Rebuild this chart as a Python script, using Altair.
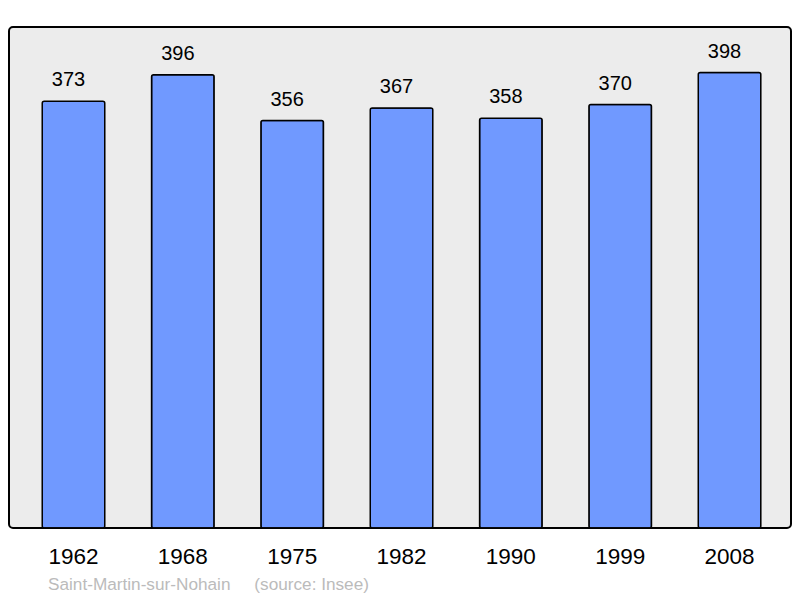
import altair as alt
import pandas as pd

years = ["1962", "1968", "1975", "1982", "1990", "1999", "2008"]
population = [373, 396, 356, 367, 358, 370, 398]
footer = ["Saint-Martin-sur-Nohain\u00a0\u00a0\u00a0\u00a0\u00a0(source: Insee)"]

df = pd.DataFrame({"year": years, "pop": population})

x = alt.X("year:O", sort=years, title=None,
          scale=alt.Scale(paddingInner=0.428, paddingOuter=0.29, align=0.524),
          axis=alt.Axis(labelAngle=0, ticks=False, domain=False, labelFontSize=22.5,
                        labelFont="Liberation Sans", labelColor="#000000",
                        labelBaseline="alphabetic", labelPadding=35))
y = alt.Y("pop:Q", title=None, scale=alt.Scale(domain=[0, 437.8], nice=False, zero=True), axis=None)

bars = alt.Chart(df).mark_bar(
    color="#7099ff", stroke="#000000", strokeWidth=1.5, cornerRadius=2
).encode(x=x, y=y)

labels = alt.Chart(df).mark_text(
    baseline="alphabetic", dy=-15, dx=-5, fontSize=20, font="Liberation Sans", color="#000000"
).encode(x=x, y=y, text="pop:Q")

foot = alt.Chart(pd.DataFrame({"t": footer})).mark_text(
    align="left", baseline="alphabetic", fontSize=17.2, font="Liberation Sans", color="#bbbbbb"
).encode(x=alt.value(39), y=alt.value(563), text="t:N")

chart = alt.layer(bars, labels, foot).properties(
    width=782, height=501,
    autosize=alt.AutoSizeParams(type="none"),
    padding={"left": 1, "top": 19, "right": 1, "bottom": 68},
).configure_view(
    fill="#ececec", stroke="#000000", strokeWidth=2, cornerRadius=4
)

chart.save("out.html", embed_options={"renderer": "svg", "actions": False})
